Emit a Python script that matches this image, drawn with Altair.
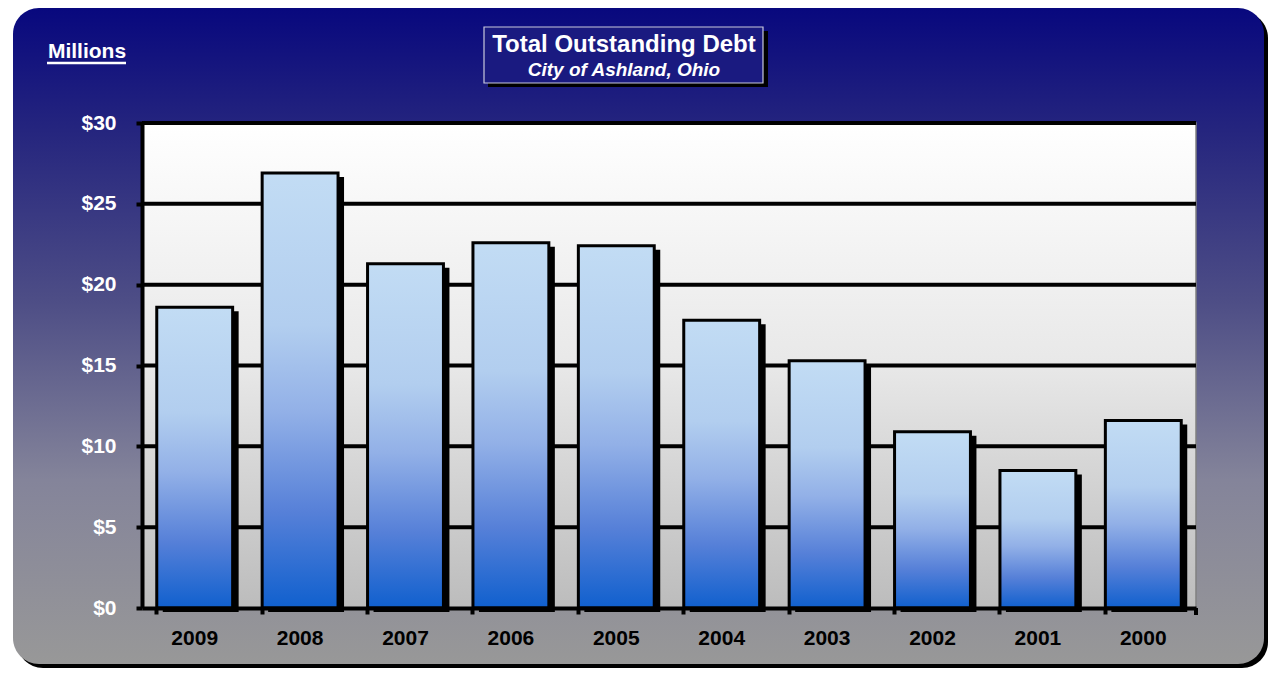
import altair as alt
import pandas as pd

years = ["2009", "2008", "2007", "2006", "2005", "2004", "2003", "2002", "2001", "2000"]
debt = [18.6, 26.9, 21.3, 22.6, 22.4, 17.8, 15.3, 10.9, 8.5, 11.6]
grid_values = [5, 10, 15, 20, 25, 30]
y_ticks = [0, 5, 10, 15, 20, 25, 30]
title_text = "Total Outstanding Debt"
subtitle_text = "City of Ashland, Ohio"
units_text = "Millions"

W, H = 1054, 485
FONT = "Liberation Sans"

df = pd.DataFrame({"year": years, "debt": debt})
one = alt.Data(values=[{"a": 1}])


def grad(stops):
    return alt.Gradient(
        gradient="linear", x1=0, x2=0, y1=0, y2=1,
        stops=[alt.GradientStop(color=c, offset=o) for o, c in stops],
    )


panel_grad = grad([(0, "#08087E"), (0.18, "#24247E"), (0.45, "#4E4E86"),
                   (0.72, "#84849A"), (1, "#989898")])
plot_grad = grad([(0, "#FFFFFF"), (0.5, "#E8E8E8"), (1, "#BCBCBC")])
bar_grad = grad([(0, "#C2DCF4"), (0.35, "#B2CEEF"), (0.55, "#92B0E7"),
                 (0.78, "#5680D8"), (1, "#1060CE")])


def box(x, x2, y, y2, **mk):
    return alt.Chart(one).mark_rect(**mk).encode(
        x=alt.value(x), x2=alt.value(x2), y=alt.value(y), y2=alt.value(y2))


def label(text, x, y, **mk):
    return alt.Chart(one).mark_text(text=text, font=FONT, **mk).encode(
        x=alt.value(x), y=alt.value(y))


panel_shadow = box(-125, 1126, -111, 545, fill="#000000", cornerRadius=26)
panel = box(-129, 1122, -115, 541, fill=panel_grad, cornerRadius=26)

tbox_shadow = box(346, 626, -92, -36, fill="#000000")
tbox = box(342, 621, -96, -40, fill="#1A1A80", stroke="#C8C8DC", strokeWidth=1.2)
t1 = label(title_text, 482, -78, fontSize=24, fontWeight="bold", color="white")
t2 = label(subtitle_text, 482, -53, fontSize=19, fontWeight="bold",
           fontStyle="italic", color="white")

units = label(units_text, -55, -71, fontSize=21, fontWeight="bold", color="white")
underline = alt.Chart(one).mark_rule(color="white", strokeWidth=2.5).encode(
    x=alt.value(-95), x2=alt.value(-16), y=alt.value(-60))

plot_bg = box(0, W, 0, H, fill=plot_grad, stroke="#808080", strokeWidth=1.5)

grid = alt.Chart(pd.DataFrame({"g": grid_values})).mark_rule(
    color="#000000", strokeWidth=4).encode(
    y=alt.Y("g:Q", scale=alt.Scale(domain=[0, 30], nice=False)))

end_tick = alt.Chart(one).mark_rule(color="#000000", strokeWidth=4).encode(
    x=alt.value(W), y=alt.value(H), y2=alt.value(H + 7))

x_enc = alt.X("year:N", sort=years, title=None,
              scale=alt.Scale(paddingInner=0.28, paddingOuter=0.14),
              axis=alt.Axis(labelAngle=0, labelColor="#000000", labelFont=FONT,
                            labelFontSize=21, labelFontWeight="bold",
                            labelPadding=13, bandPosition=0, tickSize=6,
                            tickWidth=4, tickColor="#000000", domainWidth=4,
                            domainColor="#000000", zindex=2, grid=False))
y_enc = alt.Y("debt:Q", title=None,
              scale=alt.Scale(domain=[0, 30], nice=False),
              axis=alt.Axis(values=y_ticks, labelExpr="'$' + datum.value",
                            labelColor="#FFFFFF", labelFont=FONT,
                            labelFontSize=21, labelFontWeight="bold",
                            labelPadding=20, tickSize=6, tickWidth=4,
                            tickColor="#000000", domainWidth=4,
                            domainColor="#000000", zindex=2, grid=False))

bar_shadow = alt.Chart(df).mark_bar(color="#000000", xOffset=6, yOffset=4).encode(
    x=x_enc, y=y_enc)
bars = alt.Chart(df).mark_bar(fill=bar_grad, stroke="#000000", strokeWidth=3).encode(
    x=x_enc, y=y_enc)

chart = alt.layer(
    panel_shadow, panel, tbox_shadow, tbox, t1, t2, units, underline,
    plot_bg, grid, bar_shadow, bars, end_tick
).properties(
    width=W, height=H, autosize="none",
    padding={"left": 134, "top": 115, "right": 72, "bottom": 60},
).configure_view(stroke=None, fill=None).configure(background="#FFFFFF")

chart.save("out.html", embed_options={"renderer": "svg", "actions": False})
